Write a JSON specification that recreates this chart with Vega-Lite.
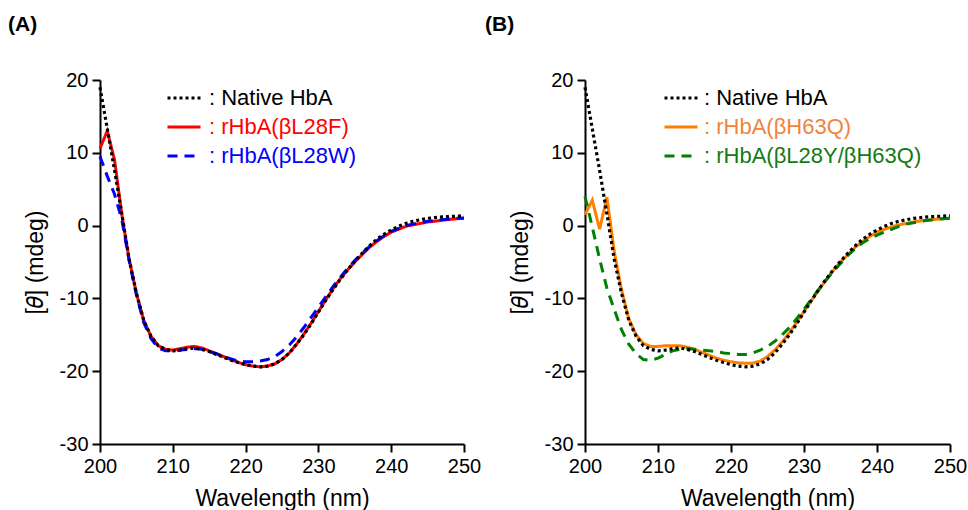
{
  "$schema": "https://vega.github.io/schema/vega-lite/v6.json",
  "padding": {"left": 8, "top": 14, "right": 0, "bottom": 0},
  "bounds": "flush",
  "spacing": 121,
  "datasets": {
    "cd": [
      {"series":"Native HbA","wl":200,"mdeg":19.0},{"series":"Native HbA","wl":201,"mdeg":13.3},{"series":"Native HbA","wl":202,"mdeg":7.6},{"series":"Native HbA","wl":203,"mdeg":1.6},{"series":"Native HbA","wl":204,"mdeg":-4.6},{"series":"Native HbA","wl":205,"mdeg":-9.3},{"series":"Native HbA","wl":206,"mdeg":-13.0},{"series":"Native HbA","wl":207,"mdeg":-15.2},{"series":"Native HbA","wl":208,"mdeg":-16.5},{"series":"Native HbA","wl":209,"mdeg":-17.0},{"series":"Native HbA","wl":210,"mdeg":-17.2},{"series":"Native HbA","wl":211,"mdeg":-17.1},{"series":"Native HbA","wl":212,"mdeg":-16.9},{"series":"Native HbA","wl":213,"mdeg":-16.8},{"series":"Native HbA","wl":214,"mdeg":-17.0},{"series":"Native HbA","wl":215,"mdeg":-17.3},{"series":"Native HbA","wl":216,"mdeg":-17.7},{"series":"Native HbA","wl":217,"mdeg":-18.1},{"series":"Native HbA","wl":218,"mdeg":-18.5},{"series":"Native HbA","wl":219,"mdeg":-18.8},{"series":"Native HbA","wl":220,"mdeg":-19.1},{"series":"Native HbA","wl":221,"mdeg":-19.3},{"series":"Native HbA","wl":222,"mdeg":-19.4},{"series":"Native HbA","wl":223,"mdeg":-19.3},{"series":"Native HbA","wl":224,"mdeg":-19.0},{"series":"Native HbA","wl":225,"mdeg":-18.4},{"series":"Native HbA","wl":226,"mdeg":-17.5},{"series":"Native HbA","wl":227,"mdeg":-16.3},{"series":"Native HbA","wl":228,"mdeg":-15.0},{"series":"Native HbA","wl":229,"mdeg":-13.5},{"series":"Native HbA","wl":230,"mdeg":-11.9},{"series":"Native HbA","wl":231,"mdeg":-10.3},{"series":"Native HbA","wl":232,"mdeg":-8.8},{"series":"Native HbA","wl":233,"mdeg":-7.4},{"series":"Native HbA","wl":234,"mdeg":-6.1},{"series":"Native HbA","wl":235,"mdeg":-4.9},{"series":"Native HbA","wl":236,"mdeg":-3.8},{"series":"Native HbA","wl":237,"mdeg":-2.8},{"series":"Native HbA","wl":238,"mdeg":-1.9},{"series":"Native HbA","wl":239,"mdeg":-1.2},{"series":"Native HbA","wl":240,"mdeg":-0.6},{"series":"Native HbA","wl":241,"mdeg":-0.1},{"series":"Native HbA","wl":242,"mdeg":0.3},{"series":"Native HbA","wl":243,"mdeg":0.6},{"series":"Native HbA","wl":244,"mdeg":0.8},{"series":"Native HbA","wl":245,"mdeg":1.0},{"series":"Native HbA","wl":246,"mdeg":1.1},{"series":"Native HbA","wl":247,"mdeg":1.2},{"series":"Native HbA","wl":248,"mdeg":1.25},{"series":"Native HbA","wl":249,"mdeg":1.3},{"series":"Native HbA","wl":250,"mdeg":1.35},
      {"series":"rHbA(βL28F)","wl":200,"mdeg":10.6},{"series":"rHbA(βL28F)","wl":201,"mdeg":13.0},{"series":"rHbA(βL28F)","wl":202,"mdeg":9.0},{"series":"rHbA(βL28F)","wl":203,"mdeg":1.5},{"series":"rHbA(βL28F)","wl":204,"mdeg":-4.6},{"series":"rHbA(βL28F)","wl":205,"mdeg":-9.3},{"series":"rHbA(βL28F)","wl":206,"mdeg":-13.0},{"series":"rHbA(βL28F)","wl":207,"mdeg":-15.2},{"series":"rHbA(βL28F)","wl":208,"mdeg":-16.5},{"series":"rHbA(βL28F)","wl":209,"mdeg":-17.0},{"series":"rHbA(βL28F)","wl":210,"mdeg":-17.1},{"series":"rHbA(βL28F)","wl":211,"mdeg":-16.9},{"series":"rHbA(βL28F)","wl":212,"mdeg":-16.7},{"series":"rHbA(βL28F)","wl":213,"mdeg":-16.6},{"series":"rHbA(βL28F)","wl":214,"mdeg":-16.8},{"series":"rHbA(βL28F)","wl":215,"mdeg":-17.2},{"series":"rHbA(βL28F)","wl":216,"mdeg":-17.6},{"series":"rHbA(βL28F)","wl":217,"mdeg":-18.0},{"series":"rHbA(βL28F)","wl":218,"mdeg":-18.4},{"series":"rHbA(βL28F)","wl":219,"mdeg":-18.8},{"series":"rHbA(βL28F)","wl":220,"mdeg":-19.1},{"series":"rHbA(βL28F)","wl":221,"mdeg":-19.3},{"series":"rHbA(βL28F)","wl":222,"mdeg":-19.4},{"series":"rHbA(βL28F)","wl":223,"mdeg":-19.3},{"series":"rHbA(βL28F)","wl":224,"mdeg":-19.0},{"series":"rHbA(βL28F)","wl":225,"mdeg":-18.4},{"series":"rHbA(βL28F)","wl":226,"mdeg":-17.5},{"series":"rHbA(βL28F)","wl":227,"mdeg":-16.3},{"series":"rHbA(βL28F)","wl":228,"mdeg":-14.9},{"series":"rHbA(βL28F)","wl":229,"mdeg":-13.4},{"series":"rHbA(βL28F)","wl":230,"mdeg":-11.8},{"series":"rHbA(βL28F)","wl":231,"mdeg":-10.2},{"series":"rHbA(βL28F)","wl":232,"mdeg":-8.7},{"series":"rHbA(βL28F)","wl":233,"mdeg":-7.3},{"series":"rHbA(βL28F)","wl":234,"mdeg":-6.1},{"series":"rHbA(βL28F)","wl":235,"mdeg":-5.0},{"series":"rHbA(βL28F)","wl":236,"mdeg":-4.0},{"series":"rHbA(βL28F)","wl":237,"mdeg":-3.0},{"series":"rHbA(βL28F)","wl":238,"mdeg":-2.2},{"series":"rHbA(βL28F)","wl":239,"mdeg":-1.5},{"series":"rHbA(βL28F)","wl":240,"mdeg":-0.9},{"series":"rHbA(βL28F)","wl":241,"mdeg":-0.5},{"series":"rHbA(βL28F)","wl":242,"mdeg":-0.1},{"series":"rHbA(βL28F)","wl":243,"mdeg":0.1},{"series":"rHbA(βL28F)","wl":244,"mdeg":0.3},{"series":"rHbA(βL28F)","wl":245,"mdeg":0.5},{"series":"rHbA(βL28F)","wl":246,"mdeg":0.6},{"series":"rHbA(βL28F)","wl":247,"mdeg":0.75},{"series":"rHbA(βL28F)","wl":248,"mdeg":0.85},{"series":"rHbA(βL28F)","wl":249,"mdeg":0.95},{"series":"rHbA(βL28F)","wl":250,"mdeg":1.0},
      {"series":"rHbA(βL28W)","wl":200,"mdeg":9.5},{"series":"rHbA(βL28W)","wl":201,"mdeg":6.8},{"series":"rHbA(βL28W)","wl":202,"mdeg":4.3},{"series":"rHbA(βL28W)","wl":203,"mdeg":0.8},{"series":"rHbA(βL28W)","wl":204,"mdeg":-4.8},{"series":"rHbA(βL28W)","wl":205,"mdeg":-9.5},{"series":"rHbA(βL28W)","wl":206,"mdeg":-13.3},{"series":"rHbA(βL28W)","wl":207,"mdeg":-15.5},{"series":"rHbA(βL28W)","wl":208,"mdeg":-16.8},{"series":"rHbA(βL28W)","wl":209,"mdeg":-17.2},{"series":"rHbA(βL28W)","wl":210,"mdeg":-17.2},{"series":"rHbA(βL28W)","wl":211,"mdeg":-17.1},{"series":"rHbA(βL28W)","wl":212,"mdeg":-17.0},{"series":"rHbA(βL28W)","wl":213,"mdeg":-16.9},{"series":"rHbA(βL28W)","wl":214,"mdeg":-17.0},{"series":"rHbA(βL28W)","wl":215,"mdeg":-17.3},{"series":"rHbA(βL28W)","wl":216,"mdeg":-17.6},{"series":"rHbA(βL28W)","wl":217,"mdeg":-18.0},{"series":"rHbA(βL28W)","wl":218,"mdeg":-18.3},{"series":"rHbA(βL28W)","wl":219,"mdeg":-18.6},{"series":"rHbA(βL28W)","wl":220,"mdeg":-18.7},{"series":"rHbA(βL28W)","wl":221,"mdeg":-18.7},{"series":"rHbA(βL28W)","wl":222,"mdeg":-18.6},{"series":"rHbA(βL28W)","wl":223,"mdeg":-18.4},{"series":"rHbA(βL28W)","wl":224,"mdeg":-18.0},{"series":"rHbA(βL28W)","wl":225,"mdeg":-17.3},{"series":"rHbA(βL28W)","wl":226,"mdeg":-16.4},{"series":"rHbA(βL28W)","wl":227,"mdeg":-15.3},{"series":"rHbA(βL28W)","wl":228,"mdeg":-14.0},{"series":"rHbA(βL28W)","wl":229,"mdeg":-12.6},{"series":"rHbA(βL28W)","wl":230,"mdeg":-11.2},{"series":"rHbA(βL28W)","wl":231,"mdeg":-9.8},{"series":"rHbA(βL28W)","wl":232,"mdeg":-8.4},{"series":"rHbA(βL28W)","wl":233,"mdeg":-7.1},{"series":"rHbA(βL28W)","wl":234,"mdeg":-5.9},{"series":"rHbA(βL28W)","wl":235,"mdeg":-4.8},{"series":"rHbA(βL28W)","wl":236,"mdeg":-3.8},{"series":"rHbA(βL28W)","wl":237,"mdeg":-2.9},{"series":"rHbA(βL28W)","wl":238,"mdeg":-2.1},{"series":"rHbA(βL28W)","wl":239,"mdeg":-1.4},{"series":"rHbA(βL28W)","wl":240,"mdeg":-0.8},{"series":"rHbA(βL28W)","wl":241,"mdeg":-0.4},{"series":"rHbA(βL28W)","wl":242,"mdeg":0.0},{"series":"rHbA(βL28W)","wl":243,"mdeg":0.2},{"series":"rHbA(βL28W)","wl":244,"mdeg":0.4},{"series":"rHbA(βL28W)","wl":245,"mdeg":0.6},{"series":"rHbA(βL28W)","wl":246,"mdeg":0.7},{"series":"rHbA(βL28W)","wl":247,"mdeg":0.8},{"series":"rHbA(βL28W)","wl":248,"mdeg":0.9},{"series":"rHbA(βL28W)","wl":249,"mdeg":1.0},{"series":"rHbA(βL28W)","wl":250,"mdeg":1.05},
      {"series":"rHbA(βH63Q)","wl":200,"mdeg":1.5},{"series":"rHbA(βH63Q)","wl":201,"mdeg":3.5},{"series":"rHbA(βH63Q)","wl":202,"mdeg":-0.5},{"series":"rHbA(βH63Q)","wl":203,"mdeg":3.9},{"series":"rHbA(βH63Q)","wl":204,"mdeg":-3.5},{"series":"rHbA(βH63Q)","wl":205,"mdeg":-8.8},{"series":"rHbA(βH63Q)","wl":206,"mdeg":-12.8},{"series":"rHbA(βH63Q)","wl":207,"mdeg":-15.0},{"series":"rHbA(βH63Q)","wl":208,"mdeg":-16.2},{"series":"rHbA(βH63Q)","wl":209,"mdeg":-16.6},{"series":"rHbA(βH63Q)","wl":210,"mdeg":-16.6},{"series":"rHbA(βH63Q)","wl":211,"mdeg":-16.5},{"series":"rHbA(βH63Q)","wl":212,"mdeg":-16.5},{"series":"rHbA(βH63Q)","wl":213,"mdeg":-16.5},{"series":"rHbA(βH63Q)","wl":214,"mdeg":-16.7},{"series":"rHbA(βH63Q)","wl":215,"mdeg":-17.0},{"series":"rHbA(βH63Q)","wl":216,"mdeg":-17.4},{"series":"rHbA(βH63Q)","wl":217,"mdeg":-17.8},{"series":"rHbA(βH63Q)","wl":218,"mdeg":-18.2},{"series":"rHbA(βH63Q)","wl":219,"mdeg":-18.5},{"series":"rHbA(βH63Q)","wl":220,"mdeg":-18.7},{"series":"rHbA(βH63Q)","wl":221,"mdeg":-18.85},{"series":"rHbA(βH63Q)","wl":222,"mdeg":-18.9},{"series":"rHbA(βH63Q)","wl":223,"mdeg":-18.9},{"series":"rHbA(βH63Q)","wl":224,"mdeg":-18.6},{"series":"rHbA(βH63Q)","wl":225,"mdeg":-18.0},{"series":"rHbA(βH63Q)","wl":226,"mdeg":-17.1},{"series":"rHbA(βH63Q)","wl":227,"mdeg":-16.0},{"series":"rHbA(βH63Q)","wl":228,"mdeg":-14.7},{"series":"rHbA(βH63Q)","wl":229,"mdeg":-13.3},{"series":"rHbA(βH63Q)","wl":230,"mdeg":-11.8},{"series":"rHbA(βH63Q)","wl":231,"mdeg":-10.3},{"series":"rHbA(βH63Q)","wl":232,"mdeg":-8.9},{"series":"rHbA(βH63Q)","wl":233,"mdeg":-7.5},{"series":"rHbA(βH63Q)","wl":234,"mdeg":-6.2},{"series":"rHbA(βH63Q)","wl":235,"mdeg":-5.0},{"series":"rHbA(βH63Q)","wl":236,"mdeg":-4.0},{"series":"rHbA(βH63Q)","wl":237,"mdeg":-3.0},{"series":"rHbA(βH63Q)","wl":238,"mdeg":-2.2},{"series":"rHbA(βH63Q)","wl":239,"mdeg":-1.5},{"series":"rHbA(βH63Q)","wl":240,"mdeg":-0.9},{"series":"rHbA(βH63Q)","wl":241,"mdeg":-0.5},{"series":"rHbA(βH63Q)","wl":242,"mdeg":-0.2},{"series":"rHbA(βH63Q)","wl":243,"mdeg":0.1},{"series":"rHbA(βH63Q)","wl":244,"mdeg":0.3},{"series":"rHbA(βH63Q)","wl":245,"mdeg":0.5},{"series":"rHbA(βH63Q)","wl":246,"mdeg":0.65},{"series":"rHbA(βH63Q)","wl":247,"mdeg":0.75},{"series":"rHbA(βH63Q)","wl":248,"mdeg":0.85},{"series":"rHbA(βH63Q)","wl":249,"mdeg":0.95},{"series":"rHbA(βH63Q)","wl":250,"mdeg":1.0},
      {"series":"rHbA(βL28Y/βH63Q)","wl":200,"mdeg":4.0},{"series":"rHbA(βL28Y/βH63Q)","wl":201,"mdeg":-0.2},{"series":"rHbA(βL28Y/βH63Q)","wl":202,"mdeg":-4.6},{"series":"rHbA(βL28Y/βH63Q)","wl":203,"mdeg":-8.6},{"series":"rHbA(βL28Y/βH63Q)","wl":204,"mdeg":-11.5},{"series":"rHbA(βL28Y/βH63Q)","wl":205,"mdeg":-14.3},{"series":"rHbA(βL28Y/βH63Q)","wl":206,"mdeg":-16.3},{"series":"rHbA(βL28Y/βH63Q)","wl":207,"mdeg":-17.6},{"series":"rHbA(βL28Y/βH63Q)","wl":208,"mdeg":-18.4},{"series":"rHbA(βL28Y/βH63Q)","wl":209,"mdeg":-18.5},{"series":"rHbA(βL28Y/βH63Q)","wl":210,"mdeg":-18.2},{"series":"rHbA(βL28Y/βH63Q)","wl":211,"mdeg":-17.7},{"series":"rHbA(βL28Y/βH63Q)","wl":212,"mdeg":-17.2},{"series":"rHbA(βL28Y/βH63Q)","wl":213,"mdeg":-17.0},{"series":"rHbA(βL28Y/βH63Q)","wl":214,"mdeg":-16.9},{"series":"rHbA(βL28Y/βH63Q)","wl":215,"mdeg":-17.0},{"series":"rHbA(βL28Y/βH63Q)","wl":216,"mdeg":-17.1},{"series":"rHbA(βL28Y/βH63Q)","wl":217,"mdeg":-17.2},{"series":"rHbA(βL28Y/βH63Q)","wl":218,"mdeg":-17.3},{"series":"rHbA(βL28Y/βH63Q)","wl":219,"mdeg":-17.5},{"series":"rHbA(βL28Y/βH63Q)","wl":220,"mdeg":-17.6},{"series":"rHbA(βL28Y/βH63Q)","wl":221,"mdeg":-17.7},{"series":"rHbA(βL28Y/βH63Q)","wl":222,"mdeg":-17.7},{"series":"rHbA(βL28Y/βH63Q)","wl":223,"mdeg":-17.5},{"series":"rHbA(βL28Y/βH63Q)","wl":224,"mdeg":-17.1},{"series":"rHbA(βL28Y/βH63Q)","wl":225,"mdeg":-16.6},{"series":"rHbA(βL28Y/βH63Q)","wl":226,"mdeg":-15.9},{"series":"rHbA(βL28Y/βH63Q)","wl":227,"mdeg":-15.0},{"series":"rHbA(βL28Y/βH63Q)","wl":228,"mdeg":-14.0},{"series":"rHbA(βL28Y/βH63Q)","wl":229,"mdeg":-12.8},{"series":"rHbA(βL28Y/βH63Q)","wl":230,"mdeg":-11.5},{"series":"rHbA(βL28Y/βH63Q)","wl":231,"mdeg":-10.1},{"series":"rHbA(βL28Y/βH63Q)","wl":232,"mdeg":-8.8},{"series":"rHbA(βL28Y/βH63Q)","wl":233,"mdeg":-7.5},{"series":"rHbA(βL28Y/βH63Q)","wl":234,"mdeg":-6.3},{"series":"rHbA(βL28Y/βH63Q)","wl":235,"mdeg":-5.2},{"series":"rHbA(βL28Y/βH63Q)","wl":236,"mdeg":-4.1},{"series":"rHbA(βL28Y/βH63Q)","wl":237,"mdeg":-3.2},{"series":"rHbA(βL28Y/βH63Q)","wl":238,"mdeg":-2.4},{"series":"rHbA(βL28Y/βH63Q)","wl":239,"mdeg":-1.8},{"series":"rHbA(βL28Y/βH63Q)","wl":240,"mdeg":-1.3},{"series":"rHbA(βL28Y/βH63Q)","wl":241,"mdeg":-0.9},{"series":"rHbA(βL28Y/βH63Q)","wl":242,"mdeg":-0.5},{"series":"rHbA(βL28Y/βH63Q)","wl":243,"mdeg":-0.1},{"series":"rHbA(βL28Y/βH63Q)","wl":244,"mdeg":0.2},{"series":"rHbA(βL28Y/βH63Q)","wl":245,"mdeg":0.4},{"series":"rHbA(βL28Y/βH63Q)","wl":246,"mdeg":0.6},{"series":"rHbA(βL28Y/βH63Q)","wl":247,"mdeg":0.75},{"series":"rHbA(βL28Y/βH63Q)","wl":248,"mdeg":0.85},{"series":"rHbA(βL28Y/βH63Q)","wl":249,"mdeg":0.95},{"series":"rHbA(βL28Y/βH63Q)","wl":250,"mdeg":1.0}
    ]
  },
  "hconcat": [
    {
      "width": 364, "height": 364,
      "data": {"name": "cd"},
      "title": {"text": "(A)", "anchor": "start", "frame": "group", "dx": -92, "offset": 35, "fontSize": 21, "fontWeight": "bold", "font": "Liberation Sans", "color": "black"},
      "encoding": {
        "x": {"field": "wl", "type": "quantitative", "scale": {"domain": [200, 250], "nice": false, "zero": false}, "axis": {"values": [200, 210, 220, 230, 240, 250], "title": "Wavelength (nm)"}},
        "y": {"field": "mdeg", "type": "quantitative", "scale": {"domain": [-30, 20], "nice": false}, "axis": {"values": [-30, -20, -10, 0, 10, 20], "title": "[𝜃] (mdeg)", "labelExpr": "'' + datum.value"}},
        "color": {"field": "series", "type": "nominal",
          "scale": {"domain": ["Native HbA", "rHbA(βL28F)", "rHbA(βL28W)"], "range": ["#000000", "#ff0000", "#0000ff"]},
          "legend": {"title": null, "orient": "none", "legendX": 66, "legendY": 0, "padding": 0, "symbolType": "stroke", "symbolSize": 1089, "symbolStrokeWidth": 3, "labelFont": "Liberation Sans", "labelFontSize": 22, "labelOffset": 7, "rowPadding": -5, "labelLimit": 400,
            "labelExpr": "': ' + datum.label",
            "labelColor": {"expr": "datum.value == 'rHbA(βL28F)' ? '#ff0000' : datum.value == 'rHbA(βL28W)' ? '#0000ff' : '#000000'"}}},
        "strokeDash": {"field": "series", "type": "nominal",
          "scale": {"domain": ["Native HbA", "rHbA(βL28F)", "rHbA(βL28W)"], "range": [[3, 3], [1, 0], [10, 7]]}}
      },
      "layer": [
        {"transform": [{"filter": {"field": "series", "equal": "rHbA(βL28F)"}}], "mark": {"type": "line", "strokeWidth": 3}},
        {"transform": [{"filter": {"field": "series", "equal": "rHbA(βL28W)"}}], "mark": {"type": "line", "strokeWidth": 3}},
        {"transform": [{"filter": {"field": "series", "equal": "Native HbA"}}], "mark": {"type": "line", "strokeWidth": 3.2}}
      ]
    },
    {
      "width": 365, "height": 364,
      "data": {"name": "cd"},
      "title": {"text": "(B)", "anchor": "start", "frame": "group", "dx": -100, "offset": 35, "fontSize": 21, "fontWeight": "bold", "font": "Liberation Sans", "color": "black"},
      "encoding": {
        "x": {"field": "wl", "type": "quantitative", "scale": {"domain": [200, 250], "nice": false, "zero": false}, "axis": {"values": [200, 210, 220, 230, 240, 250], "title": "Wavelength (nm)"}},
        "y": {"field": "mdeg", "type": "quantitative", "scale": {"domain": [-30, 20], "nice": false}, "axis": {"values": [-30, -20, -10, 0, 10, 20], "title": "[𝜃] (mdeg)", "labelExpr": "'' + datum.value"}},
        "color": {"field": "series", "type": "nominal",
          "scale": {"domain": ["Native HbA", "rHbA(βH63Q)", "rHbA(βL28Y/βH63Q)"], "range": ["#000000", "#ff8000", "#008000"]},
          "legend": {"title": null, "orient": "none", "legendX": 78, "legendY": 0, "padding": 0, "symbolType": "stroke", "symbolSize": 1089, "symbolStrokeWidth": 3, "labelFont": "Liberation Sans", "labelFontSize": 22, "labelOffset": 5, "rowPadding": -5, "labelLimit": 400,
            "labelExpr": "': ' + datum.label",
            "labelColor": {"expr": "datum.value == 'rHbA(βH63Q)' ? '#f0843e' : datum.value == 'rHbA(βL28Y/βH63Q)' ? '#137a13' : '#000000'"}}},
        "strokeDash": {"field": "series", "type": "nominal",
          "scale": {"domain": ["Native HbA", "rHbA(βH63Q)", "rHbA(βL28Y/βH63Q)"], "range": [[3, 3], [1, 0], [10, 7]]}}
      },
      "layer": [
        {"transform": [{"filter": {"field": "series", "equal": "rHbA(βH63Q)"}}], "mark": {"type": "line", "strokeWidth": 3}},
        {"transform": [{"filter": {"field": "series", "equal": "rHbA(βL28Y/βH63Q)"}}], "mark": {"type": "line", "strokeWidth": 3}},
        {"transform": [{"filter": {"field": "series", "equal": "Native HbA"}}], "mark": {"type": "line", "strokeWidth": 3.2}}
      ]
    }
  ],
  "resolve": {"scale": {"color": "independent", "strokeDash": "independent"}},
  "config": {
    "view": {"stroke": null},
    "axis": {"grid": false, "domainColor": "#000000", "domainWidth": 2, "tickColor": "#000000", "tickWidth": 2, "tickSize": 8,
      "labelFont": "Liberation Sans", "labelFontSize": 20, "labelColor": "#000000", "labelPadding": 4,
      "titleFont": "Liberation Sans", "titleFontSize": 23, "titleFontWeight": "normal", "titleColor": "#000000"},
    "axisX": {"titlePadding": 11, "labelFlush": false},
    "axisY": {"titlePadding": 12}
  }
}
